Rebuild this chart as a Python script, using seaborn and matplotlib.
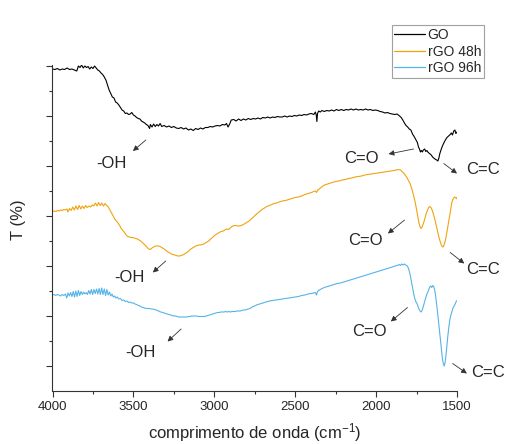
import numpy as np
import pandas as pd
import matplotlib
matplotlib.use("Agg")
import matplotlib.pyplot as plt
import seaborn as sns
from matplotlib.ticker import MultipleLocator

# ---------------- data ----------------
go_x = [4000, 3985, 3970, 3955, 3940, 3925, 3910, 3895, 3880, 3865, 3850, 3840, 3830, 3820, 3810, 3800,
        3790, 3780, 3770, 3760, 3750, 3740, 3730, 3720, 3710, 3700, 3690, 3680, 3670, 3660, 3650, 3640,
        3630, 3620, 3610, 3600, 3590, 3580, 3570, 3560, 3550, 3540, 3530, 3520, 3510, 3500, 3490, 3480,
        3470, 3460, 3450, 3440, 3430, 3420, 3410, 3400, 3395, 3385, 3375, 3365, 3355, 3345, 3335, 3325,
        3310, 3295, 3280, 3265, 3250, 3235, 3220, 3205, 3190, 3175, 3160, 3145, 3130, 3115, 3100, 3085,
        3070, 3055, 3040, 3025, 3010, 2995, 2980, 2965, 2950, 2935, 2925, 2915, 2905, 2895, 2880, 2865,
        2850, 2835, 2820, 2805, 2790, 2775, 2760, 2745, 2730, 2715, 2700, 2685, 2670, 2655, 2640, 2625,
        2610, 2595, 2580, 2565, 2550, 2535, 2520, 2505, 2490, 2475, 2460, 2445, 2430, 2415, 2400, 2385,
        2375, 2370, 2366, 2362, 2355, 2345, 2335, 2320, 2305, 2290, 2275, 2260, 2245, 2230, 2215, 2200,
        2185, 2170, 2155, 2140, 2125, 2110, 2095, 2080, 2065, 2050, 2035, 2020, 2005, 1990, 1975, 1960,
        1945, 1930, 1915, 1900, 1885, 1870, 1855, 1845, 1835, 1825, 1815, 1805, 1795, 1785, 1775, 1765,
        1755, 1745, 1738, 1732, 1726, 1720, 1714, 1708, 1700, 1693, 1686, 1678, 1670, 1662, 1655, 1648,
        1640, 1632, 1625, 1618, 1612, 1606, 1598, 1590, 1580, 1572, 1562, 1552, 1542, 1535, 1528, 1520,
        1513, 1507, 1500]
go_y = [6.44, 6.43, 6.45, 6.42, 6.44, 6.43, 6.46, 6.43, 6.44, 6.42, 6.40, 6.50, 6.47, 6.52, 6.46, 6.50,
        6.47, 6.49, 6.44, 6.48, 6.45, 6.50, 6.46, 6.42, 6.40, 6.36, 6.33, 6.28, 6.22, 6.12, 6.02, 5.95,
        5.88, 5.86, 5.78, 5.76, 5.72, 5.67, 5.62, 5.60, 5.55, 5.56, 5.53, 5.54, 5.57, 5.52, 5.50, 5.47,
        5.45, 5.44, 5.40, 5.38, 5.36, 5.33, 5.31, 5.25, 5.33, 5.28, 5.34, 5.29, 5.33, 5.30, 5.35, 5.29,
        5.31, 5.28, 5.30, 5.27, 5.29, 5.26, 5.25, 5.27, 5.24, 5.26, 5.22, 5.24, 5.21, 5.25, 5.23, 5.26,
        5.24, 5.27, 5.27, 5.29, 5.28, 5.30, 5.31, 5.30, 5.33, 5.32, 5.35, 5.28, 5.34, 5.42, 5.43, 5.40,
        5.44, 5.41, 5.44, 5.42, 5.45, 5.43, 5.45, 5.44, 5.46, 5.44, 5.47, 5.46, 5.48, 5.46, 5.48, 5.47,
        5.49, 5.48, 5.48, 5.50, 5.48, 5.50, 5.49, 5.51, 5.50, 5.52, 5.51, 5.53, 5.52, 5.54, 5.55, 5.53,
        5.58, 5.52, 5.39, 5.55, 5.60, 5.58, 5.61, 5.59, 5.61, 5.60, 5.62, 5.60, 5.63, 5.61, 5.63, 5.61,
        5.63, 5.62, 5.64, 5.62, 5.64, 5.62, 5.63, 5.62, 5.64, 5.62, 5.63, 5.61, 5.62, 5.61, 5.59, 5.58,
        5.56, 5.57, 5.55, 5.54, 5.53, 5.54, 5.50, 5.47, 5.42, 5.36, 5.31, 5.28, 5.24, 5.22, 5.14, 5.09,
        5.03, 4.97, 4.88, 4.84, 4.78, 4.81, 4.78, 4.82, 4.84, 4.79, 4.81, 4.77, 4.75, 4.73, 4.70, 4.67,
        4.65, 4.63, 4.62, 4.60, 4.66, 4.75, 4.83, 4.90, 4.97, 5.02, 5.07, 5.10, 5.13, 5.16, 5.12, 5.20,
        5.22, 5.15, 5.18]

r48_x = [4000, 3990, 3980, 3970, 3960, 3950, 3940, 3930, 3920, 3910, 3905, 3895, 3885, 3875, 3865, 3855,
         3845, 3835, 3825, 3815, 3805, 3795, 3785, 3775, 3765, 3755, 3745, 3735, 3725, 3715, 3705, 3695,
         3685, 3675, 3665, 3655, 3645, 3635, 3625, 3615, 3605, 3595, 3585, 3575, 3565, 3555, 3545, 3535,
         3525, 3515, 3505, 3495, 3485, 3475, 3465, 3455, 3445, 3435, 3425, 3415, 3405, 3395, 3385, 3375,
         3365, 3355, 3345, 3335, 3325, 3315, 3305, 3295, 3285, 3275, 3265, 3255, 3245, 3235, 3225, 3215,
         3205, 3195, 3185, 3175, 3165, 3155, 3145, 3135, 3125, 3115, 3105, 3095, 3085, 3075, 3065, 3055,
         3045, 3035, 3025, 3015, 3005, 2995, 2985, 2975, 2965, 2955, 2945, 2935, 2925, 2915, 2905, 2895,
         2885, 2875, 2865, 2855, 2845, 2835, 2825, 2815, 2805, 2795, 2785, 2775, 2765, 2755, 2745, 2735,
         2720, 2705, 2690, 2675, 2660, 2645, 2630, 2615, 2600, 2580, 2560, 2540, 2520, 2500, 2480, 2460,
         2440, 2420, 2400, 2385, 2375, 2368, 2362, 2355, 2340, 2325, 2310, 2290, 2270, 2250, 2230, 2210,
         2190, 2170, 2150, 2130, 2110, 2090, 2070, 2050, 2030, 2010, 1990, 1970, 1950, 1930, 1910, 1890,
         1875, 1862, 1850, 1840, 1830, 1820, 1810, 1800, 1790, 1780, 1770, 1760, 1750, 1742, 1735, 1728,
         1722, 1716, 1710, 1703, 1696, 1689, 1682, 1675, 1668, 1661, 1654, 1647, 1640, 1633, 1626, 1619,
         1612, 1605, 1598, 1592, 1586, 1580, 1574, 1568, 1562, 1556, 1550, 1544, 1538, 1532, 1526, 1520,
         1514, 1508, 1503, 1500]
r48_y = [3.59, 3.60, 3.59, 3.61, 3.60, 3.62, 3.61, 3.63, 3.62, 3.64, 3.58, 3.65, 3.61, 3.68, 3.62, 3.70,
         3.63, 3.71, 3.64, 3.70, 3.65, 3.71, 3.67, 3.70, 3.68, 3.72, 3.70, 3.76, 3.70, 3.77, 3.71, 3.76,
         3.70, 3.75, 3.71, 3.68, 3.62, 3.56, 3.50, 3.44, 3.40, 3.36, 3.31, 3.25, 3.21, 3.17, 3.12, 3.09,
         3.08, 3.07, 3.07, 3.06, 3.05, 3.04, 3.02, 3.00, 2.97, 2.94, 2.91, 2.87, 2.84, 2.83, 2.86, 2.88,
         2.90, 2.90, 2.90, 2.89, 2.87, 2.85, 2.83, 2.80, 2.78, 2.76, 2.74, 2.73, 2.72, 2.71, 2.70, 2.70,
         2.71, 2.72, 2.74, 2.76, 2.78, 2.81, 2.84, 2.86, 2.88, 2.90, 2.91, 2.92, 2.92, 2.93, 2.94, 2.96,
         2.98, 3.00, 3.03, 3.06, 3.09, 3.12, 3.14, 3.16, 3.18, 3.19, 3.20, 3.22, 3.24, 3.23, 3.25, 3.28,
         3.30, 3.31, 3.31, 3.30, 3.30, 3.31, 3.32, 3.34, 3.36, 3.38, 3.40, 3.43, 3.46, 3.49, 3.52, 3.55,
         3.59, 3.63, 3.66, 3.69, 3.71, 3.73, 3.75, 3.76, 3.78, 3.80, 3.81, 3.83, 3.85, 3.87, 3.88, 3.90,
         3.93, 3.95, 3.97, 3.99, 4.00, 3.97, 4.02, 4.03, 4.07, 4.11, 4.13, 4.15, 4.17, 4.19, 4.20, 4.22,
         4.23, 4.25, 4.26, 4.28, 4.29, 4.30, 4.32, 4.33, 4.34, 4.35, 4.36, 4.37, 4.38, 4.39, 4.40, 4.41,
         4.42, 4.43, 4.42, 4.39, 4.36, 4.32, 4.27, 4.21, 4.15, 4.05, 3.93, 3.80, 3.63, 3.48, 3.36, 3.28,
         3.25, 3.28, 3.33, 3.40, 3.48, 3.56, 3.62, 3.67, 3.69, 3.67, 3.62, 3.55, 3.47, 3.38, 3.28, 3.18,
         3.08, 3.00, 2.93, 2.89, 2.88, 2.92, 2.98, 3.07, 3.18, 3.30, 3.42, 3.55, 3.67, 3.77, 3.83, 3.86,
         3.88, 3.86, 3.87, 3.84]

r96_x = [4000, 3990, 3980, 3970, 3960, 3950, 3940, 3930, 3920, 3912, 3904, 3896, 3888, 3880, 3872, 3864,
         3856, 3848, 3840, 3832, 3824, 3816, 3808, 3800, 3792, 3784, 3776, 3768, 3760, 3752, 3744, 3736,
         3728, 3720, 3712, 3704, 3696, 3688, 3680, 3672, 3664, 3656, 3648, 3640, 3632, 3624, 3616, 3608,
         3600, 3590, 3580, 3570, 3560, 3550, 3540, 3530, 3520, 3510, 3500, 3490, 3480, 3470, 3460, 3450,
         3440, 3430, 3420, 3410, 3400, 3390, 3380, 3370, 3360, 3350, 3340, 3330, 3320, 3310, 3300, 3290,
         3280, 3270, 3260, 3250, 3240, 3230, 3220, 3210, 3200, 3190, 3180, 3170, 3160, 3150, 3140, 3130,
         3120, 3110, 3100, 3090, 3080, 3070, 3060, 3050, 3040, 3030, 3020, 3010, 3000, 2990, 2980, 2970,
         2960, 2950, 2940, 2930, 2920, 2910, 2900, 2890, 2880, 2870, 2860, 2850, 2840, 2830, 2820, 2810,
         2800, 2790, 2780, 2770, 2760, 2750, 2740, 2730, 2720, 2700, 2680, 2660, 2640, 2620, 2600, 2580,
         2560, 2540, 2520, 2500, 2480, 2460, 2440, 2420, 2400, 2385, 2375, 2368, 2362, 2355, 2340, 2320,
         2300, 2280, 2260, 2240, 2220, 2200, 2180, 2160, 2140, 2120, 2100, 2080, 2060, 2040, 2020, 2000,
         1980, 1960, 1940, 1920, 1900, 1885, 1870, 1858, 1850, 1842, 1834, 1826, 1818, 1810, 1802, 1795,
         1788, 1781, 1774, 1767, 1760, 1753, 1746, 1740, 1734, 1728, 1722, 1716, 1710, 1704, 1698, 1692,
         1686, 1680, 1674, 1668, 1662, 1656, 1650, 1644, 1638, 1632, 1626, 1620, 1614, 1608, 1602, 1596,
         1590, 1584, 1579, 1574, 1568, 1562, 1556, 1550, 1544, 1538, 1532, 1526, 1520, 1514, 1508, 1503,
         1500]
r96_y = [1.92, 1.93, 1.91, 1.93, 1.92, 1.90, 1.93, 1.91, 1.94, 1.86, 1.96, 1.90, 1.97, 1.89, 1.99, 1.88,
         2.00, 1.89, 2.01, 1.91, 1.99, 1.93, 1.98, 1.94, 1.97, 1.93, 2.01, 1.94, 2.03, 1.93, 2.03, 1.95,
         2.04, 1.94, 2.05, 1.93, 2.06, 1.93, 2.04, 1.91, 2.03, 1.92, 1.98, 1.90, 1.94, 1.88, 1.90, 1.86,
         1.88, 1.84, 1.85, 1.81, 1.82, 1.79, 1.80, 1.77, 1.78, 1.76, 1.76, 1.74, 1.73, 1.71, 1.70, 1.68,
         1.67, 1.66, 1.65, 1.65, 1.65, 1.64, 1.64, 1.63, 1.62, 1.61, 1.59, 1.58, 1.57, 1.56, 1.55, 1.54,
         1.53, 1.52, 1.51, 1.50, 1.50, 1.49, 1.48, 1.48, 1.48, 1.48, 1.48, 1.48, 1.49, 1.49, 1.50, 1.50,
         1.50, 1.50, 1.49, 1.49, 1.49, 1.49, 1.49, 1.50, 1.51, 1.52, 1.53, 1.54, 1.55, 1.56, 1.57, 1.57,
         1.58, 1.58, 1.58, 1.59, 1.58, 1.59, 1.58, 1.59, 1.59, 1.59, 1.60, 1.60, 1.60, 1.61, 1.62, 1.62,
         1.63, 1.64, 1.65, 1.67, 1.69, 1.70, 1.72, 1.73, 1.74, 1.76, 1.78, 1.80, 1.81, 1.82, 1.83, 1.84,
         1.85, 1.86, 1.87, 1.88, 1.89, 1.91, 1.92, 1.94, 1.95, 1.96, 1.97, 1.92, 1.99, 2.01, 2.04, 2.07,
         2.09, 2.11, 2.13, 2.15, 2.16, 2.18, 2.20, 2.22, 2.24, 2.26, 2.28, 2.30, 2.32, 2.34, 2.36, 2.38,
         2.40, 2.42, 2.44, 2.46, 2.48, 2.50, 2.51, 2.53, 2.51, 2.54, 2.52, 2.54, 2.52, 2.51, 2.47, 2.40,
         2.30, 2.18, 2.05, 1.93, 1.84, 1.78, 1.74, 1.68, 1.63, 1.60, 1.58, 1.61, 1.67, 1.74, 1.81, 1.88,
         1.94, 1.98, 2.03, 2.08, 2.10, 2.07, 2.11, 2.09, 2.02, 1.90, 1.74, 1.57, 1.38, 1.18, 0.98, 0.79,
         0.64, 0.54, 0.50, 0.56, 0.72, 0.93, 1.12, 1.29, 1.43, 1.52, 1.58, 1.65, 1.69, 1.72, 1.77, 1.80,
         1.81]

series_names = ["GO", "rGO 48h", "rGO 96h"]
colors = ["#000000", "#F0A30F", "#55B4E8"]

# annotations: (label, text_x, text_y, arrow_start_x, arrow_start_y, arrow_end_x, arrow_end_y)
ann_labels = ["-OH", "C=O", "C=C", "-OH", "C=O", "C=C", "-OH", "C=O", "C=C"]
ann_text_x = [3633, 2093, 1342, 3526, 2063, 1340, 3458, 2043, 1311]
ann_text_y = [4.55, 4.65, 4.44, 2.27, 3.02, 2.43, 0.77, 1.19, 0.37]
ann_from_x = [3423, 1768, 1582, 3300, 1824, 1542, 3205, 1806, 1527]
ann_from_y = [5.02, 4.84, 4.55, 2.60, 3.42, 2.77, 1.24, 1.67, 0.55]
ann_to_x = [3503, 1923, 1500, 3380, 1927, 1455, 3289, 1909, 1439]
ann_to_y = [4.80, 4.74, 4.35, 2.37, 3.15, 2.55, 0.99, 1.39, 0.35]

# ---------------- plot ----------------
sns.set_style("ticks")
plt.rcParams["font.family"] = ["Liberation Sans", "DejaVu Sans"]
plt.rcParams["mathtext.fontset"] = "custom"
plt.rcParams["mathtext.rm"] = "Liberation Sans"
plt.rcParams["mathtext.it"] = "Liberation Sans"

df = pd.concat([
    pd.DataFrame({"x": go_x, "y": go_y, "s": series_names[0]}),
    pd.DataFrame({"x": r48_x, "y": r48_y, "s": series_names[1]}),
    pd.DataFrame({"x": r96_x, "y": r96_y, "s": series_names[2]}),
], ignore_index=True)

fig = plt.figure(figsize=(5.06, 4.44), dpi=100)
ax = fig.add_axes([52.5 / 506, 1 - 391 / 444, (457 - 52.5) / 506, (391 - 65) / 444])

sns.lineplot(data=df, x="x", y="y", hue="s", palette=dict(zip(series_names, colors)),
             estimator=None, sort=False, linewidth=0.8, ax=ax, legend=False)

ax.set_xlim(4000, 1500)
ax.set_ylim(0, 6.52)
ax.xaxis.set_major_locator(MultipleLocator(500))
ax.xaxis.set_minor_locator(MultipleLocator(250))
ax.set_yticks([0.5, 1.5, 2.5, 3.5, 4.5, 5.5, 6.5])
ax.set_yticks([1, 2, 3, 4, 5, 6], minor=True)
ax.set_yticklabels([])
ax.tick_params(which="major", length=4, width=0.8, color="#333333", labelsize=9.5, pad=3)
ax.tick_params(which="minor", length=2.5, width=0.8, color="#333333")
for side in ["top", "right"]:
    ax.spines[side].set_visible(False)
for side in ["left", "bottom"]:
    ax.spines[side].set_color("#333333")
    ax.spines[side].set_linewidth(0.8)

ax.set_xlabel("comprimento de onda (cm$^{-1}$)", fontsize=12, labelpad=6)
ax.set_ylabel("T (%)", fontsize=12)
ax.yaxis.set_label_coords(-0.066, 0.525)

for lab, tx, ty, fx, fy, ex, ey in zip(ann_labels, ann_text_x, ann_text_y,
                                        ann_from_x, ann_from_y, ann_to_x, ann_to_y):
    ax.text(tx, ty, lab, fontsize=12, ha="center", va="center", clip_on=False)
    ax.annotate("", xy=(ex, ey), xytext=(fx, fy),
                arrowprops=dict(arrowstyle="-|>", color="#333333", lw=0.6,
                                mutation_scale=8, shrinkA=0, shrinkB=0),
                annotation_clip=False)

handles = [plt.Line2D([], [], color=c, lw=0.9) for c in colors]
leg = ax.legend(handles, series_names, loc="upper right",
                bbox_to_anchor=(484 / 506, 1 - 25 / 444), bbox_transform=fig.transFigure,
                frameon=True, fancybox=False, fontsize=10, handlelength=2.2,
                handletextpad=0.2, labelspacing=0.2, borderpad=0.2, borderaxespad=0)
leg.get_frame().set_edgecolor("#888888")
leg.get_frame().set_linewidth(0.8)

fig.savefig("out.png", dpi=100)
